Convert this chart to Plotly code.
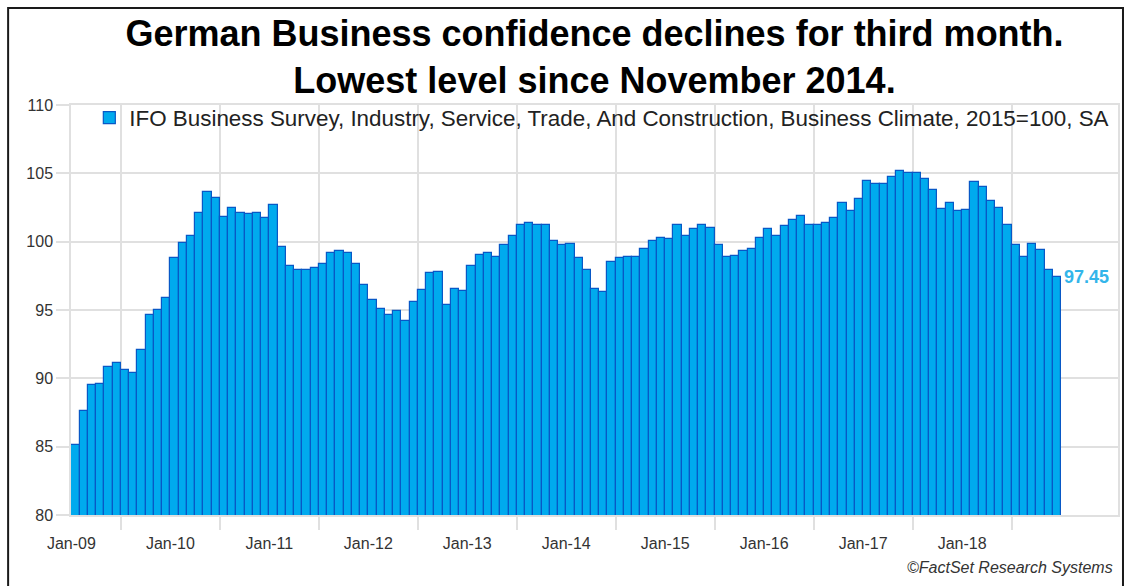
import plotly.graph_objects as go
import pandas as pd

# ---- data -------------------------------------------------------------
months = pd.date_range("2009-07-01", periods=120, freq="MS")
values = [85.1, 87.6, 89.5, 89.6, 90.8, 91.1, 90.6, 90.4, 92.1, 94.6, 95.0, 95.9,
          98.8, 99.9, 100.4, 102.1, 103.6, 103.2, 101.8, 102.5, 102.1, 102.0, 102.1, 101.7,
          102.7, 99.6, 98.2, 97.9, 97.9, 98.1, 98.35, 99.15, 99.35, 99.2, 98.35, 96.8,
          95.7, 95.1, 94.6, 94.9, 94.2, 95.55, 96.5, 97.7, 97.75, 95.4, 96.55, 96.4,
          98.2, 99.0, 99.2, 98.9, 99.75, 100.45, 101.25, 101.4, 101.25, 101.25, 100.05, 99.75,
          99.85, 98.8, 97.9, 96.55, 96.3, 98.5, 98.8, 98.9, 98.9, 99.45, 100.05, 100.3,
          100.2, 101.25, 100.45, 100.9, 101.25, 101.0, 99.75, 98.85, 98.95, 99.3, 99.45, 100.3,
          100.9, 100.45, 101.15, 101.6, 101.85, 101.25, 101.25, 101.4, 101.7, 102.8, 102.25, 103.1,
          104.45, 104.2, 104.2, 104.75, 105.15, 105.05, 105.05, 104.6, 103.8, 102.4, 102.8, 102.25,
          102.35, 104.35, 104.0, 103.0, 102.5, 101.25, 99.75, 98.9, 99.85, 99.4, 97.9, 97.45]
tick_labels = ["Jan-09", "Jan-10", "Jan-11", "Jan-12", "Jan-13",
               "Jan-14", "Jan-15", "Jan-16", "Jan-17", "Jan-18"]
y_ticks = [80, 85, 90, 95, 100, 105, 110]
series_name = ("IFO Business Survey, Industry, Service, Trade, And Construction, "
               "Business Climate, 2015=100, SA")
title_text = ("<b>German Business confidence declines for third month.<br>"
              "Lowest level since November 2014.</b>")

# ---- positions derived from the data -----------------------------------
x = list(range(len(values)))
year_bounds = [i - 0.5 for i, m in enumerate(months) if m.month == 1]   # Jan-1 boundaries
label_pos = [-0.5] + [b + 6 for b in year_bounds[:-1]]                  # mid-year positions

FONT = "Liberation Sans, Arial, sans-serif"
GRID = "#E0E0E0"

fig = go.Figure()
fig.add_trace(go.Bar(
    x=x, y=values, name=series_name,
    marker=dict(color="#00AAEE", line=dict(color="#0858C6", width=1.2)),
    showlegend=True,
))

fig.add_annotation(
    x=x[-1], y=values[-1], text=f"<b>{values[-1]:.2f}</b>",
    xanchor="left", yanchor="middle", xshift=5, showarrow=False,
    font=dict(family=FONT, size=18, color="#33B5EA"),
)
fig.add_annotation(
    xref="paper", yref="paper", x=0.9971, y=-0.129,
    text="<i>©FactSet Research Systems</i>", showarrow=False,
    xanchor="right", yanchor="middle",
    font=dict(family=FONT, size=16, color="#333333"),
)

L, R, T, B = 71, 8, 105, 71
W, H = 1128, 586
pw, ph = W - L - R, H - T - B
# outer frame of the picture
fig.add_shape(type="rect", xref="paper", yref="paper",
              x0=(8 - L) / pw, x1=(1125 - L) / pw,
              y0=(ph + T - 600) / ph, y1=(ph + T - 8) / ph,
              line=dict(color="#1A1A1A", width=2), fillcolor="rgba(0,0,0,0)", layer="above")

fig.update_layout(
    width=W, height=H,
    margin=dict(l=L, r=R, t=T, b=B),
    paper_bgcolor="white", plot_bgcolor="white",
    bargap=0,
    title=dict(text=title_text, x=0.5, xref="paper", xanchor="center",
               y=1 - 46 / H, yref="container", yanchor="middle",
               font=dict(family=FONT, size=36, color="black")),
    legend=dict(x=0.0175, y=(ph + T - 118) / ph, xanchor="left", yanchor="middle",
                bgcolor="rgba(0,0,0,0)", font=dict(family=FONT, size=22.4, color="#222222")),
    xaxis=dict(
        range=[-0.55, 126.4],
        tickmode="array", tickvals=label_pos, ticktext=tick_labels,
        ticks="outside", ticklen=13, tickcolor="rgba(0,0,0,0)",
        showgrid=False, zeroline=False,
        showline=True, mirror=True, linecolor=GRID, linewidth=1.5,
        tickfont=dict(family=FONT, size=16, color="#333333"),
        minor=dict(tickmode="array", tickvals=year_bounds, showgrid=True,
                   gridcolor=GRID, gridwidth=1.5, ticks="outside", ticklen=13,
                   tickcolor=GRID, tickwidth=1.5),
    ),
    yaxis=dict(
        range=[80, 110], tickmode="array", tickvals=y_ticks,
        showgrid=True, gridcolor=GRID, gridwidth=1.5, zeroline=False,
        ticks="outside", ticklen=13, tickcolor=GRID, tickwidth=1.5,
        showline=True, mirror=True, linecolor=GRID, linewidth=1.5,
        tickfont=dict(family=FONT, size=16, color="#333333"),
    ),
)

fig.write_html("out.html")
